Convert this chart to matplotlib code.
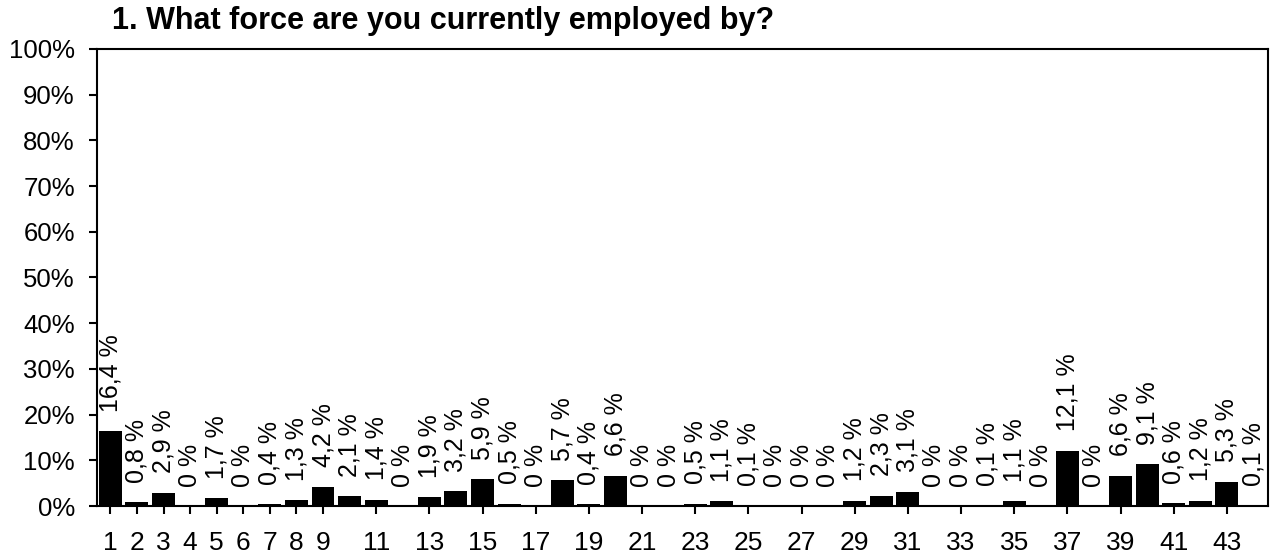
import matplotlib
matplotlib.use("Agg")
import matplotlib.pyplot as plt
import numpy as np

plt.rcParams['font.family'] = ['Liberation Sans', 'DejaVu Sans']

# answer categories 1..44 and share of respondents (%)
categories = list(range(1, 45))
values = [16.4, 0.8, 2.9, 0, 1.7, 0, 0.4, 1.3, 4.2, 2.1, 1.4, 0, 1.9, 3.2, 5.9,
          0.5, 0, 5.7, 0.4, 6.6, 0, 0, 0.5, 1.1, 0.1, 0, 0, 0, 1.2, 2.3, 3.1,
          0, 0, 0.1, 1.1, 0, 12.1, 0, 6.6, 9.1, 0.6, 1.2, 5.3, 0.1]
tick_positions = list(range(1, 10)) + list(range(11, 44, 2))
title = "1. What force are you currently employed by?"


def fmt(v):
    if v == 0:
        return "0 %"
    return f"{v:.1f}".replace(".", ",") + " %"


fig = plt.figure(figsize=(12.72, 5.56), dpi=100)
ax = fig.add_axes([0.0763, 0.0899, 0.9206, 0.822])

x = np.array(categories)
ax.bar(x, values, width=0.86, color="black")

for xi, v in zip(x, values):
    ax.annotate(fmt(v), (xi, v), xytext=(0, 14), textcoords="offset points",
                rotation=90, ha="center", va="bottom", fontsize=18)

ax.set_xlim(0.5, 44.55)
ax.set_ylim(0, 100)
ax.set_yticks(np.arange(0, 101, 10))
ax.set_yticklabels([f"{t}%" for t in range(0, 101, 10)], fontsize=18.5)
ax.set_xticks(tick_positions)
ax.set_xticklabels([str(t) for t in tick_positions], fontsize=19)
ax.tick_params(axis="both", direction="out", length=6, width=1.5)
ax.tick_params(axis="x", pad=12)
ax.tick_params(axis="y", pad=10)
for s in ax.spines.values():
    s.set_linewidth(1.5)

fig.text(0.088, 1 - 29 / 556, title, fontsize=22, fontweight="bold",
         va="baseline", ha="left")

fig.savefig("out.png", dpi=100)
